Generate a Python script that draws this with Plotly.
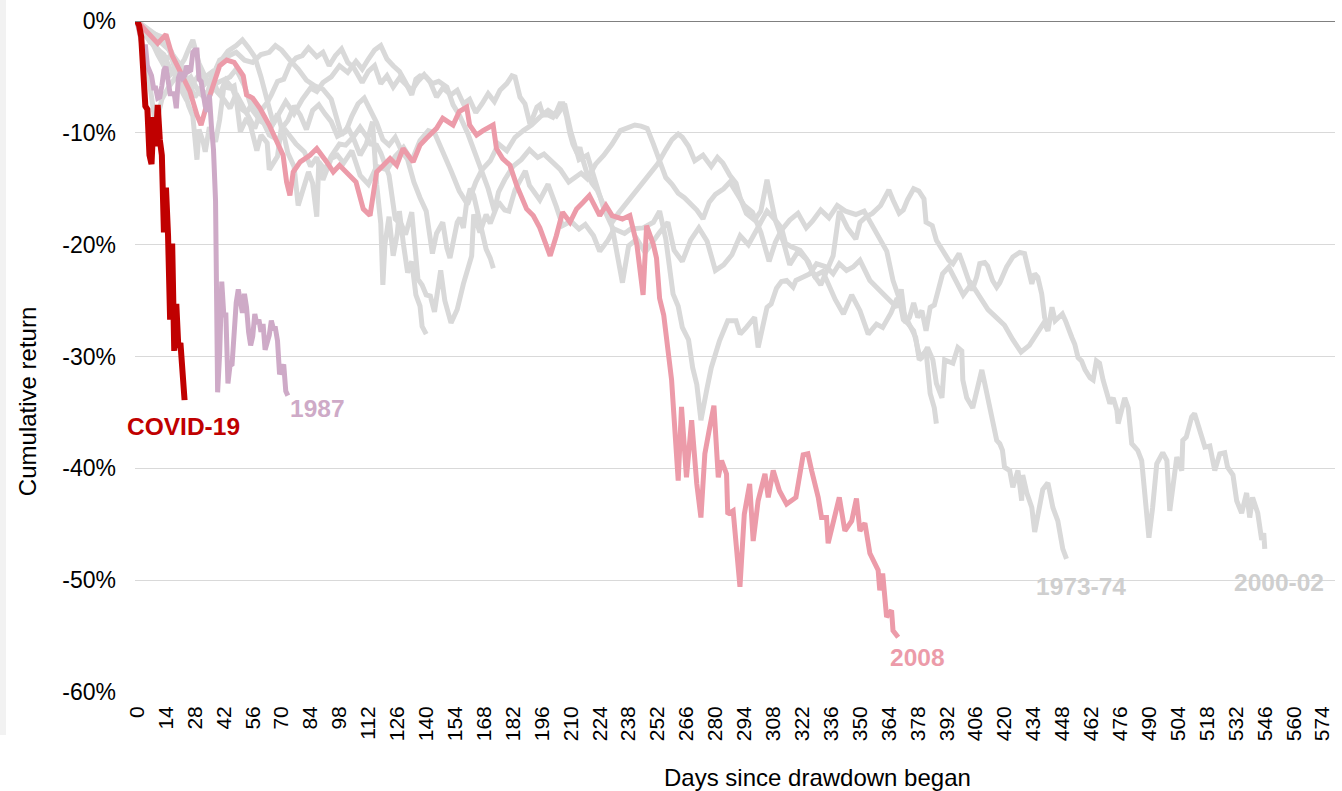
import plotly.graph_objects as go

# ---------------- data ----------------
# Days since drawdown began (x) and cumulative return in % (y) for each episode.
covid_days = list(range(0, 24))
covid_vals = [0, -0.4, -1.4, -4.7, -7.6, -7.9, -12.0, -12.8, -8.6, -11.2, -7.5, -10.6, -12.0, -18.9,
              -14.9, -19.2, -26.7, -19.9, -29.5, -25.3, -29.2, -28.8, -31.9, -33.9]

y1987_days = list(range(0, 74))
y1987_vals = [0, -0.7, -1.6, -2.9, -2.1, -4.0, -4.5, -4.9, -6.0, -6.0, -6.9, -6.8, -5.8, -4.4, -4.1,
              -5.7, -6.5, -6.5, -6.5, -7.8, -5.1, -4.6, -5.1, -4.9, -4.0, -4.5, -4.4, -2.8, -2.6, -2.6,
              -5.2, -5.4, -6.7, -7.6, -8.1, -6.6, -9.4, -11.5, -16.1, -33.2, -29.7, -23.3, -26.3, -26.3,
              -32.4, -30.8, -30.7, -27.3, -25.2, -24.0, -25.5, -26.1, -24.4, -25.6, -27.8, -29.0, -28.2,
              -26.2, -27.1, -26.7, -27.8, -27.1, -29.4, -28.7, -28.1, -26.8, -27.5, -27.5, -28.6, -31.6,
              -31.1, -30.7, -33.1, -33.5]

y2008_days = [0, 5, 10, 14, 17, 20, 25.6, 29, 31, 33.7, 37, 40, 43.4, 47, 51.4, 53, 56, 59.5, 64, 67.6,
              70.7, 72.4, 74, 75.6, 79, 83.7, 87, 91.8, 95, 98, 103, 106, 109.5, 112.8, 116, 122.5, 125.7,
              128.8, 133.7, 137, 140, 145, 148, 153, 156, 159.6, 161, 164.4, 167.5, 172.4, 174, 177, 180.5,
              183.8, 188.6, 191.8, 195, 200, 203, 206, 209.6, 212.8, 216, 219, 224, 227, 230, 235, 238.6,
              242, 245, 246.7, 250, 251.5, 253, 255, 258.8, 260, 262, 263.6, 266, 268.5, 271, 273, 274.9,
              277, 279.3, 281.4, 283, 285.4, 286, 288.6, 291.9, 294, 296.6, 298.3, 300.7, 304, 305.6, 308,
              311, 314.5, 319, 322.5, 324.8, 326.6, 329.8, 331.4, 333.8, 334.6, 337, 340, 342.7, 346, 348.3,
              350, 352.4, 354.8, 358.8, 359.6, 361, 362.9, 365.3, 366, 368.5]
y2008_vals = [0, -1, -2, -1.2, -3.1, -4.2, -6.3, -8.4, -9.3, -7.5, -5.5, -4, -3.5, -3.7, -4.9, -6.6, -6.9,
              -7.8, -9.3, -10.8, -12, -14.4, -15.6, -13.5, -12.6, -12, -11.4, -12.6, -13.5, -12.9, -13.8,
              -14.4, -16.8, -17.4, -13.5, -12.3, -12.9, -11.4, -12.6, -11.1, -10.5, -9.6, -8.7, -9.3, -8.1,
              -7.7, -9.3, -10.2, -9.8, -9.3, -11.4, -12.3, -12.9, -14.7, -16.8, -17.4, -18.5, -21, -19.2,
              -17.1, -18, -16.8, -16.2, -15.6, -17.4, -16.5, -17.4, -17.7, -17.4, -20, -24.5, -18.3, -20,
              -21.2, -24.8, -26.3, -32.1, -35.1, -41.1, -34.5, -40.8, -35.7, -41.4, -44.4, -38.7, -36.6,
              -34.4, -40.8, -39.3, -40.5, -44.1, -43.8, -50.6, -44.1, -41.4, -46.5, -42.9, -40.5, -42.6,
              -40.2, -42, -43.2, -42.6, -38.8, -38.7, -40.2, -42.6, -44.4, -44.4, -46.7, -44.7, -42.6,
              -45.6, -44.7, -42.7, -45.6, -44.9, -47.6, -49.1, -50.9, -49.4, -53.3, -52.7, -54.5, -55.1]

g1962_days = [0, 3, 6, 9, 13, 16, 18, 21, 24, 27, 30, 34, 36, 40, 44, 48, 52, 56, 60, 64, 67, 70, 74, 78,
              82, 86, 90, 94, 99, 102, 105, 108, 111, 114, 116, 118, 119, 120, 122, 124, 126, 127, 129, 131,
              133, 135, 137, 138, 140]
g1962_vals = [0, -0.9, -1.8, -1.2, -1.5, -2.8, -4.1, -5.0, -6.0, -5.6, -6.2, -6.5, -5.2, -3.5, -3.1, -2.8,
              -3.5, -3.7, -3.0, -2.8, -2.2, -2.6, -3.5, -4.3, -5.3, -5.8, -6.1, -7.0, -10.2, -9.5, -10.6,
              -12.0, -11.0, -9.0, -14.6, -18.1, -23.6, -20.0, -17.5, -21.0, -19.0, -17.0, -20.0, -22.5,
              -21.5, -24.5, -25.5, -27.3, -28.0]

g1966_days = [0, 2, 5, 8, 11, 13, 16, 19, 22, 24, 27, 30, 33, 36, 40, 44, 48, 51, 54, 57, 60, 62, 64, 66,
              68, 70, 73, 76, 79, 82, 85, 88, 91, 94, 97, 101, 104, 107, 110, 113, 116, 119, 122, 125, 128,
              131, 134, 137, 140, 143, 145, 148, 150, 151.5, 153, 155, 156.3, 158, 159.6, 161.3, 163, 165,
              167, 169, 171, 172.5]
g1966_vals = [0, -0.3, -0.9, -2.2, -2.7, -3.0, -4.3, -4.8, -6.4, -7.1, -5.6, -4.8, -5.6, -5.1, -3.7, -2.7,
              -2.2, -1.7, -2.4, -3.2, -5.0, -6.5, -8.1, -9.2, -8.3, -9.6, -8.9, -7.6, -8.4, -9.7, -8.0, -7.5,
              -8.3, -9.0, -10.3, -9.9, -8.5, -7.4, -6.9, -8.0, -9.1, -10.6, -11.1, -10.4, -11.6, -12.4,
              -14.4, -15.8, -17.0, -20.8, -19.0, -18.0, -20.3, -21.2, -19.8, -18.0, -17.6, -18.5, -16.2,
              -15.0, -15.6, -17.4, -18.8, -20.4, -21.2, -22.1]

g1970_days = [0, 3, 6, 9, 12, 15, 18, 22, 25, 28, 31, 34, 38, 42, 45, 48, 52, 56, 60, 65, 68, 72, 76, 80,
              84, 87, 90, 94, 98, 102, 106, 109, 112, 115, 118, 121, 124, 127, 130, 133, 135, 137, 140, 143,
              146, 150, 153, 156, 160, 164, 167, 170, 173, 175, 178, 182, 186, 190, 194, 197, 201, 205, 209,
              212, 215, 218, 222, 226, 230, 234, 238, 241, 244, 247, 250, 253, 256, 259, 262, 265, 268, 271,
              274, 277, 280, 284, 287, 290, 294, 298, 302, 306, 309, 312, 316, 320, 324, 327, 331, 335, 339,
              343, 348, 352, 356, 360, 363, 366, 369, 371, 373, 376, 379, 382, 384, 386, 387]
g1970_vals = [0, -0.4, -0.8, -1.2, -2.0, -2.5, -3.2, -4.2, -5.5, -6.8, -6.0, -5.3, -5.6, -5.2, -5.0, -4.3,
              -5.8, -8.0, -9.0, -9.5, -8.6, -7.2, -8.3, -7.0, -6.0, -6.3, -5.5, -5.0, -4.0, -4.6, -3.6, -4.3,
              -3.4, -2.6, -2.2, -3.4, -4.0, -4.5, -5.5, -6.6, -5.2, -4.9, -5.0, -5.6, -5.4, -5.9, -7.5, -8.4,
              -10.0, -12.0, -13.5, -15.0, -17.0, -15.3, -14.2, -13.0, -12.4, -11.5, -12.2, -11.9, -12.6,
              -13.3, -14.4, -14.0, -13.6, -14.1, -12.8, -12.0, -11.0, -9.8, -9.5, -9.3, -9.4, -9.6, -11.0,
              -12.5, -14.0, -14.6, -15.4, -15.8, -16.4, -16.9, -17.7, -16.2, -15.5, -15.0, -14.4, -15.3,
              -16.5, -17.1, -18.9, -21.5, -19.8, -18.7, -17.8, -17.2, -18.5, -17.9, -16.9, -17.6, -16.5,
              -17.0, -17.3, -17.0, -18.3, -19.6, -20.6, -23.2, -24.8, -26.7, -27.0, -27.7, -30.1, -29.5,
              -33.3, -34.6, -36.0]

g1974_days = [0, 3, 6, 10, 14, 17, 20, 23, 26, 30, 34, 37, 40, 43, 46, 50, 53, 56, 60, 64, 68, 72, 77, 81,
              84, 87, 90, 94, 97, 100, 104, 108, 112, 116, 121, 125, 129, 133, 137, 141, 144, 148, 152, 156,
              160, 164, 167, 171, 175, 179, 183, 187, 191, 195, 199, 203, 207, 210, 214, 218, 222, 226, 230,
              232, 235, 238, 242, 246, 250, 253, 257, 260, 264, 268, 272, 276, 280, 284, 288, 292, 296, 300,
              305, 309, 313, 316, 320, 324, 328, 332, 336, 338, 342, 346, 350, 354, 358, 361, 365, 368, 372,
              377, 378.7, 380, 382.7, 385.3, 387, 389.7, 391, 395, 397.4, 399.3, 399.8, 401.7, 404.6, 406.5,
              409, 410.4, 413, 414.3, 416.2, 417.7, 419, 420, 422.5, 424, 426.5, 428.3, 428.8, 430.8, 433.2,
              434.6, 438.5, 441, 443.4, 445.8, 448.2, 450]
g1974_vals = [0, -0.8, -1.5, -2.5, -3.5, -2.9, -4.2, -5.5, -5.0, -6.4, -7.1, -6.0, -6.5, -5.3, -6.0, -7.8,
              -8.2, -7.3, -8.6, -10.2, -10.6, -9.8, -11.0, -11.7, -13.0, -12.2, -14.2, -12.3, -12.0, -12.7,
              -11.6, -13.8, -14.6, -13.0, -13.3, -12.1, -11.3, -12.5, -10.7, -9.8, -10.0, -11.6, -13.4,
              -15.2, -16.4, -14.4, -13.3, -12.5, -11.0, -11.6, -10.4, -9.8, -9.3, -8.6, -8.0, -8.5, -7.4,
              -9.9, -12.4, -12.0, -14.6, -16.8, -18.4, -20.2, -23.4, -20.1, -19.5, -20.7, -19.6, -18.9,
              -18.0, -20.5, -21.5, -19.6, -18.5, -19.7, -22.3, -21.8, -20.9, -19.2, -20.0, -18.6, -17.0,
              -17.8, -19.8, -21.8, -20.6, -21.3, -22.8, -22.4, -24.1, -24.9, -26.2, -24.5, -25.9, -28.0,
              -27.1, -27.4, -26.1, -24.8, -26.4, -28.3, -30.3, -30.1, -29.2, -30.3, -32.4, -33.7, -30.3,
              -30.6, -29.2, -29.5, -32.1, -33.7, -34.6, -33.0, -31.2, -32.4, -34.8, -36.3, -37.5, -37.8,
              -38.4, -39.9, -40.2, -41.7, -40.2, -42.9, -40.6, -42.2, -43.5, -45.7, -41.9, -41.3, -43.5,
              -44.7, -47.2, -48.1]

g1982_days = [0, 3, 6, 9, 12, 15, 18, 21, 23, 25, 27, 30, 33, 36, 39, 42, 45, 48, 51, 54, 57, 60, 63, 65,
              68, 71, 74, 77, 80, 83, 87, 90, 93, 96, 99, 102, 105, 109, 112, 115, 118, 121, 124, 127, 130,
              133, 136, 139, 142, 145, 148, 152, 155, 158, 161, 164, 167, 170, 173, 175.7, 179, 181.5, 183,
              185.4, 187.8, 188.8, 190.2, 191.7, 193.6, 195, 196.5, 199, 201.3, 203.3, 204.7, 206.2, 208,
              209.6, 211, 213, 214.4, 216, 217.8, 220.2, 222.7, 226, 230, 233, 236, 240, 244, 248, 252, 256,
              259, 262, 264, 267, 270, 274, 278, 281, 283.6, 287, 290, 292, 295, 299, 302, 305, 307, 309,
              312, 314, 317, 321, 325, 328, 331, 334, 337, 340, 344, 348, 350, 353, 356, 360, 364, 366, 369,
              371, 373, 376, 378.5, 381, 382, 385, 387, 390, 393, 395, 398, 399.8, 401.7, 404.3, 406.5, 408,
              410.4, 411.8, 414.2, 416.2, 417.7, 421, 424, 427.3, 429.7, 431, 433.2, 434.6, 436.1, 438,
              439.4, 441]
g1982_vals = [0, -2.5, -5.5, -9.4, -7.0, -6.0, -5.2, -4.0, -3.4, -2.5, -1.7, -3.8, -5.0, -4.6, -6.4, -7.0,
              -7.8, -6.5, -7.6, -8.7, -9.6, -8.0, -7.3, -6.6, -5.4, -5.2, -3.9, -3.3, -3.1, -2.4, -3.2, -2.8,
              -4.0, -3.1, -2.5, -3.7, -4.2, -5.5, -4.5, -4.0, -5.6, -4.9, -5.9, -5.1, -5.6, -6.2, -5.4, -4.8,
              -5.5, -6.8, -6.0, -6.6, -6.2, -7.4, -7.0, -8.2, -7.4, -6.5, -7.2, -6.2, -5.6, -4.9, -5.0, -6.8,
              -7.4, -8.3, -9.2, -8.6, -7.7, -7.5, -8.4, -8.4, -8.6, -8.0, -7.4, -7.4, -8.6, -10.1, -11.0,
              -11.8, -11.3, -12.5, -13.6, -14.5, -15.1, -16.5, -18.0, -17.2, -16.5, -15.5, -14.5, -13.6,
              -12.8, -11.5, -10.6, -10.1, -10.4, -11.2, -12.5, -12.0, -13.0, -12.2, -12.7, -13.8, -14.5,
              -15.8, -17.2, -17.8, -17.0, -14.2, -16.0, -17.8, -18.5, -19.9, -20.2, -20.5, -21.5, -22.8,
              -23.6, -22.4, -21.0, -17.0, -18.5, -19.5, -18.0, -17.5, -17.2, -16.5, -15.1, -16.0, -17.2,
              -16.9, -16.0, -15.0, -15.2, -15.9, -18.0, -18.3, -19.6, -20.5, -21.4, -21.7, -20.8, -21.7,
              -22.6, -24.1, -22.9, -21.7, -21.6, -21.9, -23.2, -23.8, -23.4, -22.0, -21.1, -20.7, -20.8,
              -22.0, -23.5, -22.6, -22.9, -24.4, -26.5, -27.3]

g2002_days = [0, 3, 5, 8, 10, 13, 15, 18, 20, 22, 25, 27, 29, 30, 32, 33, 35, 38, 40, 42, 45, 47, 48, 50,
              53, 55, 58, 60, 63, 64, 65, 68, 70, 73, 76, 78, 83, 85, 87, 88, 91, 94, 98, 101, 105, 108, 111,
              113, 116, 118, 122, 125, 128, 130, 133, 136, 138, 140, 142, 144, 147, 149, 152, 155, 158, 160,
              162, 163, 166, 169, 171, 175, 178, 180, 183, 188, 190, 195, 199, 203, 206, 210, 214, 217, 221,
              224, 228, 231, 236, 239, 245, 250, 253, 256, 259.5, 262, 264, 267, 269, 271, 273, 275.8, 278,
              282, 286, 290, 292, 295, 299, 300.7, 302, 305, 307, 309.6, 312, 314.5, 317.6, 319, 322.5,
              325.8, 329, 333.8, 337, 340, 343.5, 346.7, 350, 354.8, 359.6, 363, 367.7, 370, 372, 374, 376,
              378, 380, 382, 384, 386, 388.6, 390, 393, 396, 400, 404, 408, 412, 416, 420, 424, 428, 432,
              436, 439, 441, 443, 444.5, 446, 448, 449.5, 451, 452.6, 454, 455.6, 457.3, 459, 461.4, 462.9,
              464.5, 466, 467.7, 469.4, 471, 472.6, 474.4, 475, 476.9, 478.2, 479.9, 481.6, 483.1, 484.5,
              486.4, 487.9, 489.9, 491.7, 493.7, 496.6, 498.6, 500, 501.6, 503.4, 505.8, 506.3, 508, 510.6,
              512, 513.6, 515.6, 517, 519.4, 521.8, 524.2, 526.6, 528, 530.6, 532.4, 534.8, 537.2, 538.7,
              540.1, 542.6, 544.5, 545.5, 546]
g2002_vals = [0, -1.1, -1.5, -2.2, -3.0, -4.0, -5.0, -4.5, -5.3, -5.7, -7.6, -8.5, -12.4, -9.7, -10.8,
              -11.7, -9.5, -10.8, -8.8, -5.9, -6.0, -5.8, -6.9, -9.9, -8.7, -9.4, -11.6, -10.2, -10.9, -13.3,
              -13.0, -12.1, -9.3, -11.8, -13.0, -16.5, -13.5, -14.5, -17.5, -12.6, -13.3, -12.1, -11.0,
              -11.1, -10.3, -9.5, -10.3, -11.0, -11.1, -11.8, -13.8, -17.7, -18.2, -19.1, -17.1, -23.1,
              -23.6, -24.5, -24.6, -26.0, -22.3, -25.0, -27.0, -25.8, -23.5, -22.2, -21.0, -17.3, -18.9,
              -17.3, -18.1, -16.2, -16.9, -17.0, -15.1, -13.4, -14.7, -16.0, -14.6, -16.6, -18.3, -17.9,
              -18.6, -18.2, -19.2, -20.6, -19.6, -18.6, -19.0, -18.6, -18.5, -18.0, -17.0, -19.5, -24.4,
              -25.5, -27.4, -28.5, -31.0, -32.5, -35.7, -33.0, -31.0, -28.6, -26.8, -26.8, -28.0, -27.4,
              -26.5, -29.2, -28.0, -25.6, -25.3, -23.9, -23.3, -23.2, -23.8, -23.2, -22.9, -22.6, -21.7,
              -22.0, -22.6, -21.7, -22.3, -22.0, -21.4, -23.2, -24.1, -24.7, -25.6, -24.0, -27.0, -26.5,
              -25.2, -26.5, -25.9, -27.7, -25.6, -25.4, -23.5, -22.6, -22.0, -23.0, -24.5, -23.5, -24.6,
              -25.8, -26.5, -27.2, -28.5, -29.6, -29.0, -27.8, -27.0, -27.7, -25.6, -26.8, -26.5, -26.2,
              -26.8, -27.7, -28.3, -28.9, -30.1, -30.4, -31.2, -31.9, -32.1, -30.4, -30.6, -32.1, -33.3,
              -34.2, -33.7, -34.8, -36.0, -34.8, -33.7, -34.6, -37.8, -38.1, -38.4, -39.3, -42.6, -46.2,
              -43.5, -39.6, -38.6, -39.3, -43.8, -41.1, -39.0, -40.2, -37.5, -37.2, -35.4, -35.1, -36.0,
              -37.2, -38.1, -38.0, -40.2, -38.7, -38.6, -39.9, -40.6, -42.9, -44.0, -42.2, -44.4, -42.6,
              -44.0, -46.4, -45.8, -47.2]

x_tick_vals = list(range(0, 575, 14))
y_tick_vals = [0, -10, -20, -30, -40, -50, -60]
y_tick_text = ["0%", "-10%", "-20%", "-30%", "-40%", "-50%", "-60%"]

labels = ["COVID-19", "1987", "2008", "1973-74", "2000-02"]
label_series = ["covid", "y1987", "y2008", "g1974", "g2002"]

series = {
    "covid": (covid_days, covid_vals), "y1987": (y1987_days, y1987_vals),
    "y2008": (y2008_days, y2008_vals), "g1962": (g1962_days, g1962_vals),
    "g1966": (g1966_days, g1966_vals), "g1970": (g1970_days, g1970_vals),
    "g1974": (g1974_days, g1974_vals), "g1982": (g1982_days, g1982_vals),
    "g2002": (g2002_days, g2002_vals),
}

# ---------------- styles ----------------
GRAY = "#D9D9D9"
PINK = "#EC9BA9"
PURPLE = "#CEAAC7"
RED = "#C00000"
FONT = "Liberation Sans, Arial, sans-serif"

fig = go.Figure()

for key in ["g1962", "g1966", "g1970", "g1974", "g1982", "g2002"]:
    d, v = series[key]
    fig.add_trace(go.Scatter(x=d, y=v, mode="lines", line=dict(color=GRAY, width=5),
                             hoverinfo="skip", showlegend=False))

for key, col, w in [("y2008", PINK, 5), ("y1987", PURPLE, 5), ("covid", RED, 6)]:
    d, v = series[key]
    fig.add_trace(go.Scatter(x=d, y=v, mode="lines", line=dict(color=col, width=w),
                             showlegend=False))

# series labels: placed next to the end of their series (pixel shifts)
label_style = {
    "COVID-19": dict(color=RED, xs=-1, ys=-26.5),
    "1987": dict(color=PURPLE, xs=30, ys=-12.6),
    "2008": dict(color=PINK, xs=19, ys=-20),
    "1973-74": dict(color="#CFCFCF", xs=14, ys=-28),
    "2000-02": dict(color="#CFCFCF", xs=14.5, ys=-33.6),
}
for name, key in zip(labels, label_series):
    d, v = series[key]
    st = label_style[name]
    fig.add_annotation(x=d[-1], y=v[-1], xref="x", yref="y", text="<b>%s</b>" % name,
                       showarrow=False, xanchor="center", yanchor="middle",
                       xshift=st["xs"], yshift=st["ys"],
                       font=dict(family=FONT, size=24.5, color=st["color"]))

# axis titles
fig.add_annotation(xref="paper", yref="paper", x=0.569, y=-0.127, text="Days since drawdown began",
                   showarrow=False, xanchor="center", yanchor="middle",
                   font=dict(family=FONT, size=24, color="#000000"))
fig.add_annotation(xref="paper", yref="paper", x=-0.09, y=0.432, text="Cumulative return",
                   showarrow=False, xanchor="center", yanchor="middle", textangle=-90,
                   font=dict(family=FONT, size=24, color="#000000"))

# zero line and light strip at the left edge
fig.add_shape(type="line", xref="paper", yref="y", x0=0, x1=1, y0=0, y1=0,
              line=dict(color="#808080", width=2))
fig.add_shape(type="rect", xref="paper", yref="paper", x0=-0.1125, x1=-0.1075, y0=-0.064, y1=1.04,
              line=dict(width=0), fillcolor="#F2F2F2", layer="below")

fig.update_layout(
    width=1342, height=791,
    margin=dict(l=135, r=7, t=21, b=99),
    paper_bgcolor="white", plot_bgcolor="white",
    font=dict(family=FONT, color="#000000"),
    xaxis=dict(range=[-1, 580], tickmode="array", tickvals=x_tick_vals,
               ticktext=[str(t) for t in x_tick_vals], tickangle=-90,
               tickfont=dict(size=21), showgrid=False, zeroline=False, showline=False,
               ticks="", ticklabelstandoff=9),
    yaxis=dict(range=[-60, 0], tickmode="array", tickvals=y_tick_vals, ticktext=y_tick_text,
               tickfont=dict(size=23), showgrid=True, gridcolor="#D9D9D9", gridwidth=1.3,
               zeroline=False, showline=False, ticks="", ticklabelstandoff=18),
)

fig.write_html("out.html", config={"displayModeBar": False},
               post_script="document.body.style.margin='0px';")
